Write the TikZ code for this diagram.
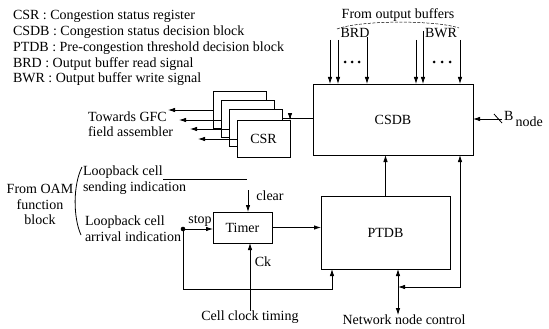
\documentclass[tikz,border=0pt]{standalone}
\usepackage{fontspec}
\setmainfont{Liberation Serif}
\usetikzlibrary{arrows.meta}
\begin{document}
\begin{tikzpicture}[x=1pt,y=-1pt,
  font=\fontsize{14}{16}\selectfont,
  box/.style={draw, line width=0.8pt, fill=white, inner sep=0pt, outer sep=0pt},
  ln/.style={line width=0.8pt},
  arr/.style={line width=0.8pt, -{Latex[length=7pt,width=4.5pt]}},
  arrboth/.style={line width=0.8pt, {Latex[length=7pt,width=4.5pt]}-{Latex[length=7pt,width=4.5pt]}},
  lbl/.style={inner sep=0pt, outer sep=0pt},
  csrbox/.style={box, minimum width=53pt, minimum height=37pt}]
\useasboundingbox (0,0) rectangle (549,329);

% legend
\node[lbl, anchor=west] (lg1) at (13,16) {CSR : Congestion status register};
\node[lbl, anchor=west] (lg2) at (13,32) {CSDB : Congestion status decision block};
\node[lbl, anchor=west] (lg3) at (13,48) {PTDB : Pre-congestion threshold decision block};
\node[lbl, anchor=west] (lg4) at (13,64) {BRD : Output buffer read signal};
\node[lbl, anchor=west] (lg5) at (13,79) {BWR : Output buffer write signal};

% main boxes
\node[box, minimum width=160pt, minimum height=71pt] (csdb) at (393,119.5) {CSDB};
\node[box, minimum width=129pt, minimum height=73pt] (ptdb) at (385.5,232.5) {PTDB};
\node[box, minimum width=59pt, minimum height=31pt] (timer) at (242.5,227.5) {Timer};

% CSR stack
\node[csrbox] (csr1) at (239.5,109.5) {};
\node[csrbox] (csr2) at (247.5,118.5) {};
\node[csrbox] (csr3) at (255.5,127.5) {};
\node[csrbox] (csr) at (263.5,138.5) {CSR};

% towards GFC
\node[lbl, anchor=west] (gfc1) at (88,117) {Towards GFC};
\node[lbl, anchor=west] (gfc2) at (88,132) {field assembler};
\coordinate (g1) at (168,110);
\coordinate (g2) at (179,120);
\coordinate (g3) at (190,129);
\coordinate (g4) at (198,139);
\draw[arr] (csr1.west |- g1) -- (g1);
\draw[arr] (csr2.west |- g2) -- (g2);
\draw[arr] (csr3.west |- g3) -- (g3);
\draw[arr] (csr.west |- g4) -- (g4);

% CSDB to CSR
\coordinate (cj) at (290,118);
\draw[ln] (csdb.west |- cj) -- (csr3.east |- cj);
\draw[arr] (cj) -- (csr.north east);

% from output buffers
\node[lbl] (fob) at (398,15) {From output buffers};
\draw[line width=0.5pt, dash pattern=on 3pt off 1.5pt] (337,29) .. controls (360,20) and (436,20) .. (459,28);
\node[lbl] (brd) at (355,33) {BRD};
\node[lbl] (bwr) at (441,33) {BWR};
\coordinate (b1) at (330,40);
\coordinate (b2) at (338,40);
\coordinate (b3) at (367,37);
\coordinate (w1) at (416,40);
\coordinate (w2) at (423,31);
\coordinate (w3) at (460,40);
\foreach \c in {b1,b2,b3,w1,w2,w3}
  \draw[arr] (\c) -- (\c |- csdb.north);
\foreach \x in {345,352,359,434,442,450}
  \fill (\x,62) circle (1.5pt);

% B node
\coordinate (bn) at (502,119);
\draw[arr] (bn) -- (csdb.east |- bn);
\draw[ln] (494,114) -- (502,123);
\node[lbl, anchor=west] (bnode) at (504,119) {B\,\raisebox{-6pt}{node}};

% PTDB to CSDB
\draw[arr] (ptdb.north) -- (ptdb.north |- csdb.south);

% network node control
\node[lbl] (nnc) at (404,320) {Network node control};
\coordinate (nj) at (398,287);
\coordinate (rc) at (460,287);
\draw[arrboth] (nj) -- (rc) -- (rc |- csdb.south);
\draw[arrboth] (ptdb.south -| nj) -- (nnc.north -| nj);

% Timer
\draw[arr] (timer.east) -- (timer.east -| ptdb.west);
\coordinate (clr) at (248,190);
\draw[arr] (clr) -- (clr |- timer.north);
\node[lbl] (clear) at (270,196) {clear};
\node[lbl] (cct) at (250,317) {Cell clock timing};
\draw[arr] (cct.north) -- (cct.north |- timer.south);
\node[lbl] (ck) at (263,262) {Ck};

% loopback
\node[lbl, anchor=west] (ls1) at (83,172) {Loopback cell};
\node[lbl, anchor=west] (ls2) at (83,188) {sending indication};
\coordinate (s1) at (163,179);
\coordinate (s2) at (247,179);
\draw[ln] (s1) -- (s2);
\node[lbl, anchor=west] (la1) at (85,222) {Loopback cell};
\node[lbl, anchor=west] (la2) at (85,237) {arrival indication};
\coordinate (dot) at (183,229);
\fill (dot) circle (2.3pt);
\node[lbl] (stop) at (200,221) {stop};
\draw[arr] (dot) -- (dot -| timer.west);
\coordinate (lp) at (332,289);
\draw[arr] (dot) |- (lp) -- (lp |- ptdb.south);

% From OAM
\node[lbl] (oam1) at (40,189) {From OAM};
\node[lbl] (oam2) at (40,205) {function};
\node[lbl] (oam3) at (40,220) {block};
\draw[ln] (82,167) .. controls (73,185) and (73,217) .. (81,235);
\end{tikzpicture}
\end{document}
